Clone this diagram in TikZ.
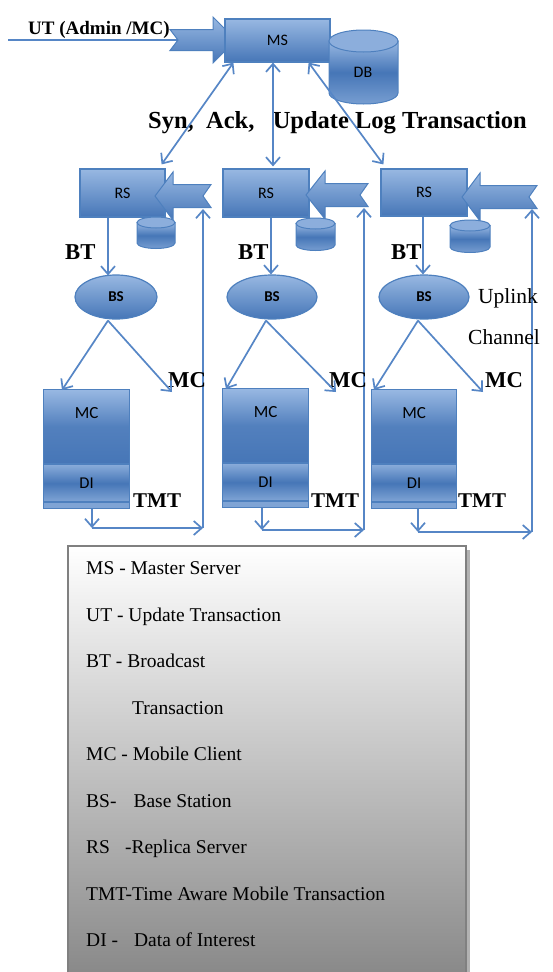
\documentclass[tikz,border=0pt]{standalone}
\usepackage{fontspec}
\setmainfont{Liberation Serif}
\newfontfamily\boxfont{Carlito}
\usetikzlibrary{arrows.meta,calc,shapes.geometric}
\definecolor{bdark}{RGB}{70,118,183}
\definecolor{blight}{RGB}{152,184,226}
\definecolor{bedge}{RGB}{78,128,190}
\definecolor{bline}{RGB}{86,134,198}
\newcommand\fsz[1]{\fontsize{#1}{#1}\selectfont}
\tikzset{
 conn/.style={draw=bline,line width=1.7pt},
 blockbox/.style={rectangle,draw=bedge,line width=1.2pt,inner sep=0pt,top color=blight,bottom color=bdark,font=\boxfont\fsz{16}},
 fatarrow/.style={draw=bedge,line width=1pt,top color=blight,bottom color=bdark},
 cylbody/.style={draw=bedge,line width=1pt,top color=blight,bottom color=blight!60!bdark,middle color=bdark},
 cyltop/.style={draw=bedge,line width=1pt,fill=blight!85!bdark},
 bsnode/.style={ellipse,draw=bedge,line width=1.2pt,inner sep=0pt,minimum height=44pt,top color=blight,bottom color=bdark,font=\boxfont\bfseries\fsz{15}},
 mcupper/.style={rectangle,draw=bedge,line width=1.2pt,inner sep=0pt,top color=blight,bottom color=bdark,middle color=bdark!85!blight},
 diboxst/.style={rectangle,draw=bedge,line width=1.2pt,inner sep=0pt,top color=blight!80!bdark,bottom color=blight!70!bdark,middle color=bdark,font=\boxfont\fsz{16.5}},
 stripst/.style={rectangle,draw=bedge,line width=1pt,inner sep=0pt,fill=blight!70!bdark},
 boldlbl/.style={font=\bfseries\fsz{22.7},inner sep=0pt,anchor=base west},
 tmtlbl/.style={font=\bfseries\fsz{21},inner sep=0pt,anchor=base west},
 leglbl/.style={font=\fsz{19.5},inner sep=0pt,anchor=base west},
 plainlbl/.style={font=\fsz{21.5},inner sep=0pt,anchor=base west},
}
\newcommand\mycyl[5]{%
 \pgfmathsetmacro\cyx{(#1+#2)/2}%
 \pgfmathsetmacro\cyr{(#2-#1)/2}%
 \pgfmathsetmacro\cykx{0.5523*\cyr}%
 \pgfmathsetmacro\cyky{0.5523*#5}%
 \pgfmathsetmacro\cyb{#4+#5}%
 \pgfmathsetmacro\cybk{#4+\cyky}%
 \path[cylbody] (#1,#3) -- (#1,#4) .. controls (#1,\cybk) and (\cyx-\cykx,\cyb) .. (\cyx,\cyb) .. controls (\cyx+\cykx,\cyb) and (#2,\cybk) .. (#2,#4) -- (#2,#3) -- cycle;
 \path[cyltop] (\cyx,#3) ellipse [x radius=\cyr, y radius=#5];
}
\newcommand\leftfat[4]{%
 \path[fatarrow] (#1,#4) -- (#2,#4-24) -- (#2,#4-11.5) -- (#3,#4-11.5) -- (#3-8,#4) -- (#3,#4+11.5) -- (#2,#4+11.5) -- (#2,#4+24) -- cycle;
}
\newcommand\mcstack[4]{%
 \node[mcupper,minimum width=#4pt,minimum height=74pt,anchor=north west] (mc#1) at (#2,#3) {};
 \node[diboxst,minimum width=#4pt,minimum height=37pt,anchor=north west] (di#1) at (mc#1.south west) {DI};
 \node[stripst,minimum width=#4pt,minimum height=6pt,anchor=north west] (st#1) at (di#1.south west) {};
 \node[font=\boxfont\fsz{17}] (mct#1) at ($(mc#1.north)+(0,24)$) {MC};
}
\begin{document}
\begin{tikzpicture}[x=1pt,y=-1pt,>={Straight Barb[length=8pt,width=14pt]}]
\useasboundingbox (0,0) rectangle (552,972);
\clip (0,0) rectangle (552,972);
\fill[white] (0,0) rectangle (552,972);

% legend
\fill[black!30] (467,550) rectangle (470,990);
\path[top color=white,bottom color=black!48,draw=black!50,line width=1.5pt] (68,546) rectangle (466,990);
\node[leglbl] (l1) at (86,574.5) {MS - Master Server};
\node[leglbl] (l2) at (86,621) {UT - Update Transaction};
\node[leglbl] (l3) at (86,667.5) {BT - Broadcast};
\node[leglbl] (l4) at (132,714) {Transaction};
\node[leglbl] (l5) at (86,760.5) {MC - Mobile Client};
\node[leglbl] (l6) at (86,807) {BS-\hspace{17pt}Base Station};
\node[leglbl] (l7) at (86,853.5) {RS\hspace{15pt}-Replica Server};
\node[leglbl] (l8) at (86,900) {TMT-Time Aware Mobile Transaction};
\node[leglbl] (l9) at (86,946.5) {DI -\hspace{16pt}Data of Interest};

% master server
\coordinate (utstart) at (8,40);
\coordinate (utnotch) at (178,40);
\draw[conn] (utstart) -- (utnotch);
\path[fatarrow] (170,29.5) -- (213,29.5) -- (213,17) -- (236,40) -- (213,63) -- (213,50.5) -- (170,50.5) -- (178,40) -- cycle;
\node[blockbox,minimum width=105pt,minimum height=43pt] (ms) at (277.5,40.5) {MS};
\mycyl{329}{398}{41}{93}{11}
\node[font=\boxfont\fsz{16}] (db) at (363,72) {DB};

% replica servers
\node[blockbox,minimum width=85pt,minimum height=48pt] (rs1) at (122.5,193) {RS};
\node[blockbox,minimum width=86pt,minimum height=48pt] (rs2) at (266,193) {RS};
\node[blockbox,minimum width=86pt,minimum height=47pt] (rs3) at (424,192.5) {RS};

% uplink paths
\coordinate (dn1) at (92,528);  \coordinate (cr1) at (203,528); \coordinate (up1) at (203,209);
\coordinate (dn2) at (262,530); \coordinate (cr2) at (364,530); \coordinate (up2) at (364,208);
\coordinate (dn3) at (418,532); \coordinate (cr3) at (532,532); \coordinate (up3) at (532,209);
\draw[conn,->] (cr1) -- (up1);
\draw[conn,->] (cr2) -- (up2);
\draw[conn,->] (cr3) -- (up3);

\leftfat{155}{173}{211}{196}
\leftfat{306}{325}{368}{195}
\leftfat{462}{480}{537}{197}

\mycyl{137}{175}{222.5}{243}{5.5}
\mycyl{296}{335}{223.5}{245}{5.5}
\mycyl{450}{490}{225.5}{247}{5.5}

% base stations
\node[bsnode,minimum width=82pt] (bs1) at (116,297) {BS};
\node[bsnode,minimum width=90pt] (bs2) at (272,297) {BS};
\node[bsnode,minimum width=90pt] (bs3) at (424,297) {BS};

% mobile clients
\mcstack{1}{43}{389}{86}
\mcstack{2}{222}{388}{86}
\mcstack{3}{371}{389}{85}

% labels
\node[font=\bfseries\fsz{19},inner sep=0pt,anchor=base west] (utl) at (28,34.5) {UT (Admin /MC)};
\node[font=\bfseries\fsz{24.5},inner sep=0pt,anchor=base west] (syn) at (148,128) {Syn,\ \ Ack,\ \ \ Update Log Transaction};
\node[boldlbl] (bt1) at (65,259) {BT};
\node[boldlbl] (bt2) at (238,259) {BT};
\node[boldlbl] (bt3) at (391,259) {BT};
\node[boldlbl] (mcl1) at (168,387) {MC};
\node[boldlbl] (mcl2) at (329,387) {MC};
\node[boldlbl] (mcl3) at (485,387) {MC};
\node[tmtlbl] (tmt1) at (133,507) {TMT};
\node[tmtlbl] (tmt2) at (311,507) {TMT};
\node[tmtlbl] (tmt3) at (458,507) {TMT};
\node[plainlbl] (upl) at (478,303) {Uplink};
\node[plainlbl] (chl) at (468,344) {Channel};

% MS <-> RS
\draw[conn,<->] ($(ms.south west)+(9,0)$) -- ($(rs1.north east)+(-4,-4)$);
\draw[conn,<->] ($(ms.south)+(-4.5,0)$) -- ($(rs2.north)+(7,-2)$);
\draw[conn,<->] ($(ms.south east)+(-22,0)$) -- ($(rs3.north west)+(3,-4)$);

% RS -> BS
\draw[conn,->] ($(rs1.south)+(-14.5,0)$) -- ($(bs1.north)+(-8,1)$);
\draw[conn,->] ($(rs2.south)+(5,0)$) -- ($(bs2.north)+(-1,0)$);
\draw[conn,->] ($(rs3.south)+(-1,0)$) -- ($(bs3.north)+(-1,0)$);

% BS -> MC
\coordinate (ap1) at ($(bs1.south)+(-8,1)$);
\coordinate (ap2) at ($(bs2.south)+(-6,1)$);
\coordinate (ap3) at ($(bs3.south)+(-6,1)$);
\coordinate (mr1) at (172,392);
\coordinate (mr2) at (336,392);
\coordinate (mr3) at (483,392);
\draw[conn,->] (ap1) -- ($(mc1.north west)+(19,1)$);
\draw[conn,->] (ap1) -- (mr1);
\draw[conn,->] (ap2) -- ($(mc2.north west)+(4,1)$);
\draw[conn,->] (ap2) -- (mr2);
\draw[conn,->] (ap3) -- ($(mc3.north west)+(3,1)$);
\draw[conn,->] (ap3) -- (mr3);

% MC -> uplink
\draw[conn,->] (st1.south -| dn1) -- (dn1);
\draw[conn,->] (dn1) -- (cr1);
\draw[conn,->] (st2.south -| dn2) -- (dn2);
\draw[conn,->] (dn2) -- (cr2);
\draw[conn,->] (st3.south -| dn3) -- (dn3);
\draw[conn,->] (dn3) -- (cr3);
\end{tikzpicture}
\end{document}
